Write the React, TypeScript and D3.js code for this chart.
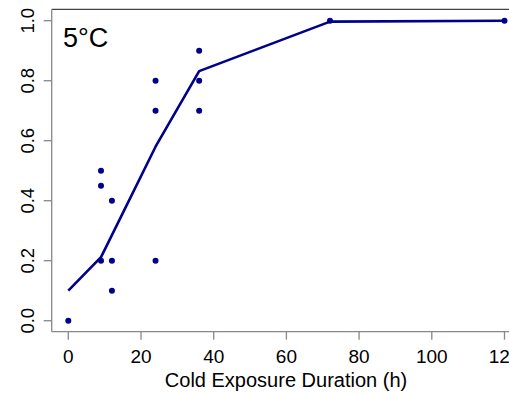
import React from "react";
import * as d3 from "d3";

const obsX = [0, 9, 9, 9, 12, 12, 12, 24, 24, 24, 36, 36, 36, 72, 120];
const obsY = [0.0, 0.5, 0.45, 0.2, 0.4, 0.2, 0.1, 0.8, 0.7, 0.2, 0.9, 0.8, 0.7, 1.0, 1.0];
const fitX = [0, 9, 12, 24, 36, 72, 120];
const fitY = [0.1, 0.212, 0.285, 0.58, 0.832, 0.997, 1.0];
const xTicks = [0, 20, 40, 60, 80, 100, 120];
const yTicks = [0.0, 0.2, 0.4, 0.6, 0.8, 1.0];
const xLabel = "Cold Exposure Duration (h)";
const panelLabel = "5°C";

export default function App() {
  const W = 509, H = 393;
  const x = d3.scaleLinear().domain([0, 120]).range([68.3, 504.5]);
  const y = d3.scaleLinear().domain([0, 1]).range([320.7, 20.7]);
  const boxL = 51.7, boxT = 9.3, boxB = 331.7, boxR = 520;
  const col = "#00008B";
  const line = d3.line<number>().x((_, i) => x(fitX[i])).y((d) => y(d));
  const font = "'Liberation Sans', Arial, sans-serif";
  return (
    <svg width={W} height={H} style={{ position: "absolute", left: 0, top: 0, background: "#fff" }} fontFamily={font}>
      <line x1={boxL} x2={boxR} y1={boxT} y2={boxT} stroke="#444" strokeWidth={1.3} />
      <line x1={boxL} x2={boxL} y1={boxT} y2={boxB} stroke="#888" strokeWidth={1.3} />
      <line x1={boxL} x2={boxR} y1={boxB} y2={boxB} stroke="#888" strokeWidth={1.3} />
      {xTicks.map((t) => (
        <g key={"x" + t}>
          <line x1={x(t)} x2={x(t)} y1={boxB} y2={boxB + 8} stroke="#888" strokeWidth={1.3} />
          <text x={x(t)} y={363} textAnchor="middle" fontSize={19} fill="#000">{t}</text>
        </g>
      ))}
      {yTicks.map((t) => (
        <g key={"y" + t}>
          <line x1={boxL} x2={boxL - 8} y1={y(t)} y2={y(t)} stroke="#888" strokeWidth={1.3} />
          <text transform={`translate(33.5,${y(t)}) rotate(-90)`} textAnchor="middle" fontSize={18.5} fill="#000">{t.toFixed(1)}</text>
        </g>
      ))}
      <text x={286} y={387} textAnchor="middle" fontSize={20} fill="#000">{xLabel}</text>
      <text x={63} y={47} fontSize={27} fill="#000">{panelLabel}</text>
      <path d={line(fitY) || ""} fill="none" stroke={col} strokeWidth={2.6} strokeLinejoin="round" />
      {obsX.map((v, i) => (
        <circle key={i} cx={x(v)} cy={y(obsY[i])} r={3} fill={col} />
      ))}
    </svg>
  );
}
